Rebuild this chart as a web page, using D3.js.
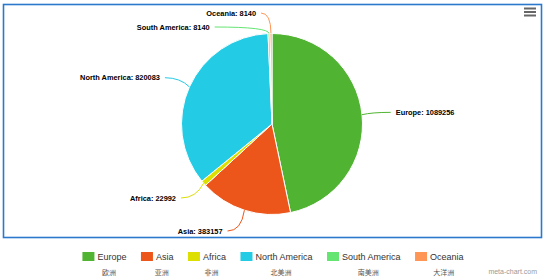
<!DOCTYPE html>
<html>
<head>
<meta charset="utf-8">
<script src="https://cdn.jsdelivr.net/npm/d3@7"></script>
<style>
  html, body { margin: 0; padding: 0; background: #fff; }
  svg { display: block; }
</style>
</head>
<body>
<svg id="chart" width="547" height="277"></svg>
<script>
const categories = ["Europe", "Asia", "Africa", "North America", "South America", "Oceania"];
const values = [1089256, 383157, 22992, 820083, 8140, 8140];
const chineseNames = ["欧洲", "亚洲", "非洲", "北美洲", "南美洲", "大洋洲"];
const colors = ["#50B432", "#ED561B", "#DDDF00", "#24CBE5", "#64E572", "#FF9655"];

const W = 547, H = 277;
const cx = 272, cy = 124, r = 90.5, labelDist = 30;
const svg = d3.select("#chart");

// frame
svg.append("rect").attr("x", 3.5).attr("y", 4.5).attr("width", 538).attr("height", 233)
  .attr("fill", "none").attr("stroke", "#2b78cc").attr("stroke-width", 1.6);

// menu icon
const menu = svg.append("g");
[8.5, 12, 15.5].forEach(y => menu.append("line").attr("x1", 524).attr("x2", 536)
  .attr("y1", y).attr("y2", y).attr("stroke", "#666").attr("stroke-width", 2));

const data = categories.map((c, i) => ({ name: c, value: values[i], color: colors[i], zh: chineseNames[i] }));
const pie = d3.pie().sort(null).value(d => d.value);
const arcs = pie(data);
const arcGen = d3.arc().innerRadius(0).outerRadius(r);

const g = svg.append("g").attr("transform", `translate(${cx},${cy})`);
g.selectAll("path.slice").data(arcs).join("path")
  .attr("class", "slice")
  .attr("d", arcGen)
  .attr("fill", d => d.data.color)
  .attr("stroke", "#fff").attr("stroke-width", 1);

// label layout
const R = r + labelDist;
const Ry = r + 22.5;
const labels = arcs.map(a => {
  const mid = (a.startAngle + a.endAngle) / 2;
  return {
    a, mid,
    side: Math.sin(mid) >= 0 ? 1 : -1,
    ex: cx + r * Math.sin(mid), ey: cy - r * Math.cos(mid),
    y: cy - Ry * Math.cos(mid)
  };
});
const minY = 13, maxY = 231, gap = 14;
[1, -1].forEach(side => {
  const s = labels.filter(l => l.side === side).sort((p, q) => p.y - q.y);
  for (let i = 0; i < s.length; i++) {
    s[i].y = Math.max(s[i].y, minY, i ? s[i - 1].y + gap : -Infinity);
  }
  for (let i = s.length - 1; i >= 0; i--) {
    s[i].y = Math.min(s[i].y, maxY, i < s.length - 1 ? s[i + 1].y - gap : Infinity);
  }
});
labels.forEach(l => {
  const yEff = l.y + (l.y < cy ? -9 : 5);
  const dy = yEff - cy;
  const dx = Math.sqrt(Math.max(0, R * R - dy * dy));
  l.x = cx + l.side * dx;
  l.cx = cx + (r + 10) * Math.sin(l.mid);
});

svg.selectAll("path.conn").data(labels).join("path")
  .attr("class", "conn")
  .attr("d", l => `M${l.x},${l.y} Q${l.cx},${l.y} ${l.ex},${l.ey}`)
  .attr("fill", "none")
  .attr("stroke", l => l.a.data.color)
  .attr("stroke-width", 1);

svg.selectAll("text.dl").data(labels).join("text")
  .attr("class", "dl")
  .attr("x", l => l.x + l.side * 5)
  .attr("y", l => l.y)
  .attr("dy", "0.35em")
  .attr("text-anchor", l => l.side > 0 ? "start" : "end")
  .attr("font-family", "'Liberation Sans', Arial, sans-serif")
  .attr("font-weight", "bold")
  .attr("font-size", "7.4px")
  .attr("fill", "#000")
  .text(l => `${l.a.data.name}: ${l.a.data.value}`);

// legend
const legend = svg.append("g");
const items = legend.selectAll("g").data(data).join("g");
items.append("rect").attr("width", 12).attr("height", 9).attr("y", 252)
  .attr("fill", d => d.color);
items.append("text").attr("class", "lt")
  .attr("x", 15).attr("y", 259.5)
  .attr("font-family", "'Liberation Sans', Arial, sans-serif")
  .attr("font-size", "9px").attr("fill", "#333")
  .text(d => d.name);
const widths = [];
items.selectAll("text.lt").each(function () { widths.push(this.getComputedTextLength()); });
const itemGap = 14.5;
const total = d3.sum(widths, w => 15 + w) + itemGap * (widths.length - 1);
let xPos = cx + 1 - total / 2;
items.each(function (d, i) {
  d3.select(this).attr("transform", `translate(${xPos},0)`);
  xPos += 15 + widths[i] + itemGap;
});
items.append("text")
  .attr("x", (d, i) => 15 + widths[i] / 2 - 3)
  .attr("y", 274.5)
  .attr("text-anchor", "middle")
  .attr("font-family", "'Noto Sans CJK SC', sans-serif")
  .attr("font-size", "7px").attr("fill", "#555")
  .text(d => d.zh);

svg.append("text").attr("x", 537).attr("y", 273.5).attr("text-anchor", "end")
  .attr("font-family", "'Liberation Sans', Arial, sans-serif")
  .attr("font-size", "7px").attr("fill", "#999")
  .text("meta-chart.com");
</script>
</body>
</html>
